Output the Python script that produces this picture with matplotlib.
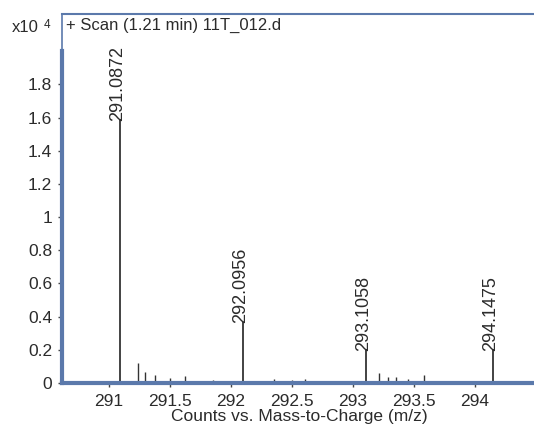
import matplotlib
matplotlib.use('Agg')
import matplotlib.pyplot as plt

plt.rcParams['font.family'] = ['Liberation Sans', 'DejaVu Sans']

# Picos etiquetados (m/z, cuentas)
mz_lab = [291.0872, 292.0956, 293.1058, 294.1475]
int_lab = [15900, 3700, 2050, 2050]

# Picos pequeños sin etiqueta
mz_small = [291.24, 291.295, 291.38, 291.50, 291.62, 291.85,
            292.35, 292.50, 292.61,
            293.21, 293.29, 293.35, 293.45, 293.58]
int_small = [1200, 680, 480, 300, 450, 200,
             250, 200, 250,
             630, 360, 360, 250, 470]

spine_col = '#5b79ab'
text_col = '#2b2b2b'

fig = plt.figure(figsize=(5.34, 4.28), dpi=100)
ax = fig.add_axes([0.116, 0.105, 0.889, 0.862])

scale = 1e4
ax.vlines(mz_small, 0, [v / scale for v in int_small], color='#333333', lw=1.0)
ax.vlines(mz_lab, 0, [v / scale for v in int_lab], color='#222222', lw=1.2)

for m, v in zip(mz_lab, int_lab):
    ax.text(m - 0.015, v / scale - 0.01, f'{m:.4f}', rotation=90,
            ha='center', va='bottom', fontsize=13, color=text_col)

ax.set_xlim(290.615, 294.506)
ax.set_ylim(0, 2.223)

ax.set_xticks([291, 291.5, 292, 292.5, 293, 293.5, 294])
ax.set_xticklabels(['291', '291.5', '292', '292.5', '293', '293.5', '294'])
ax.set_yticks([0, 0.2, 0.4, 0.6, 0.8, 1, 1.2, 1.4, 1.6, 1.8])
ax.set_yticklabels(['0', '0.2', '0.4', '0.6', '0.8', '1', '1.2', '1.4', '1.6', '1.8'])
ax.tick_params(axis='both', labelsize=12.5, labelcolor=text_col, color='#444444',
               length=3, width=1, direction='out')
ax.tick_params(axis='x', pad=5)
ax.tick_params(axis='y', pad=4)

ax.spines['right'].set_visible(False)
ax.spines['top'].set_color(spine_col)
ax.spines['top'].set_linewidth(1.5)
ax.spines['bottom'].set_color(spine_col)
ax.spines['bottom'].set_linewidth(3)
ax.spines['left'].set_color(spine_col)
ax.spines['left'].set_linewidth(3)
ax.spines['left'].set_bounds(0, 2.0)
# tramo fino superior del eje izquierdo
ax.plot([0, 0], [2.0 / 2.223, 1], transform=ax.transAxes, color=spine_col,
        lw=1.2, clip_on=False)

ax.set_xlabel('Counts vs. Mass-to-Charge (m/z)', fontsize=12.5, color=text_col,
              labelpad=0)

ax.text(0.008, 0.99, '+ Scan (1.21 min) 11T_012.d', transform=ax.transAxes,
        ha='left', va='top', fontsize=12, color=text_col)
fig.text(0.022, 0.925, 'x10', ha='left', va='baseline', fontsize=12, color=text_col)
fig.text(0.082, 0.935, '4', ha='left', va='baseline', fontsize=8.5, color=text_col)

fig.savefig('out.png', dpi=100)
